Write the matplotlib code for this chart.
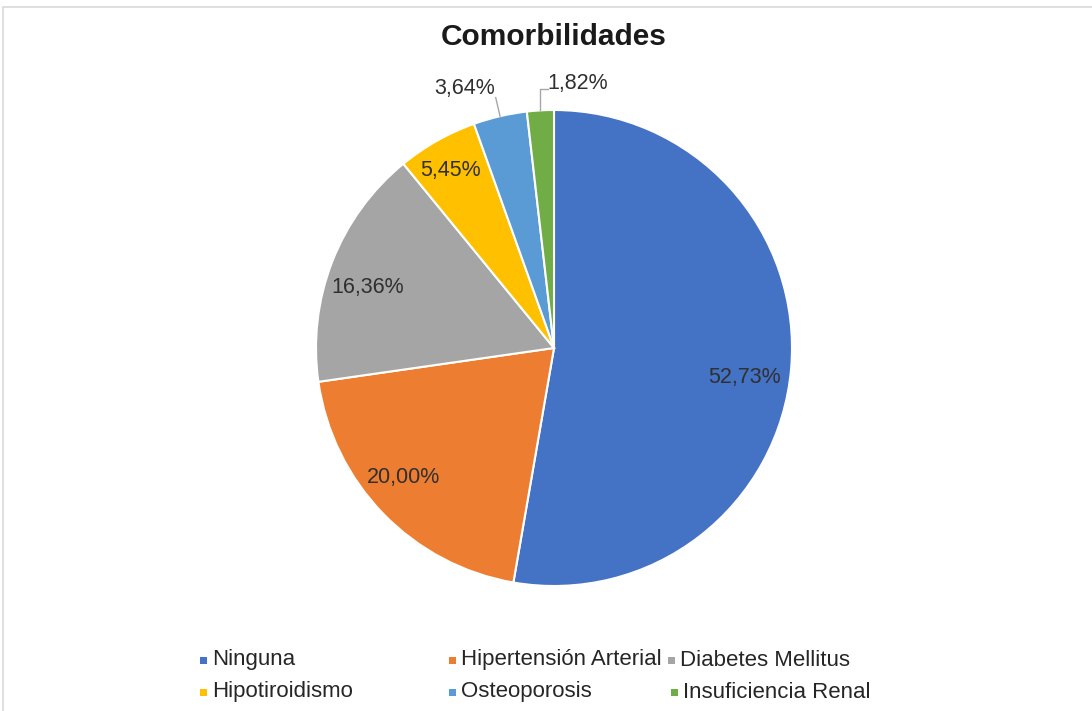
import numpy as np
import matplotlib.pyplot as plt
from matplotlib.patches import Rectangle

plt.rcParams['font.family'] = ['Liberation Sans', 'DejaVu Sans']

categorias = ['Ninguna', 'Hipertensión Arterial', 'Diabetes Mellitus',
              'Hipotiroidismo', 'Osteoporosis', 'Insuficiencia Renal']
porcentajes = [52.73, 20.00, 16.36, 5.45, 3.64, 1.82]
colores = ['#4472C4', '#ED7D31', '#A5A5A5', '#FFC000', '#5B9BD5', '#70AD47']

W, H = 1092, 711
fig = plt.figure(figsize=(W / 100, H / 100), dpi=100)
fig.patch.set_facecolor('white')

# marco del area del grafico
fig.patches.append(Rectangle((3 / W, -0.01), 1.02, (H - 7) / H + 0.01,
                             transform=fig.transFigure, fill=False,
                             edgecolor='#d9d9d9', lw=1.2))

cx, cy, r = 554, 348, 238
ax = fig.add_axes([(cx - r) / W, (H - cy - r) / H, 2 * r / W, 2 * r / H])
wedges, _ = ax.pie(porcentajes, colors=colores, startangle=90, counterclock=False,
                   wedgeprops=dict(edgecolor='white', linewidth=1.5))
ax.set_xlim(-1, 1)
ax.set_ylim(-1, 1)
ax.set_aspect('equal')
ax.axis('off')

# posicion de cada etiqueta: (radio, desplazamiento angular en grados)
pos_etiquetas = [(0.81, -3.8), (0.834, -3.5), (0.825, 3.3), (0.864, 0.6),
                 (1.152, 6.0), (1.114, -8.5)]

for w, p, (rr, dth) in zip(wedges, porcentajes, pos_etiquetas):
    mid = (w.theta1 + w.theta2) / 2
    a = np.radians(mid + dth)
    txt = f'{p:.2f}%'.replace('.', ',')
    ax.text(rr * np.cos(a), rr * np.sin(a), txt, ha='center', va='center',
            fontsize=15.5, color='#303030', clip_on=False)

# lineas guia de las etiquetas exteriores
gris = '#a6a6a6'
w = wedges[4]
m = np.radians((w.theta1 + w.theta2) / 2)
ax.plot([np.cos(m), 1.08 * np.cos(m)], [np.sin(m), 1.08 * np.sin(m)],
        color=gris, lw=1, clip_on=False)
w = wedges[5]
m = np.radians((w.theta1 + w.theta2) / 2)
x0, y0 = np.cos(m), np.sin(m)
ax.plot([x0, x0, x0 + 0.03], [y0, 1.09, 1.09], color=gris, lw=1, clip_on=False)

fig.text(cx / W, 1 - 37 / H, 'Comorbilidades', ha='center', va='center',
         fontsize=21.5, fontweight='bold', color='#1a1a1a')

# leyenda en dos filas
leyenda_pos = [(203, 660), (452, 660), (671, 660), (203, 692), (452, 692), (674, 692)]
for (lx, ly), nombre, col in zip(leyenda_pos, categorias, colores):
    fig.patches.append(Rectangle(((lx - 3.5) / W, 1 - (ly + 3.5) / H), 7 / W, 7 / H,
                                 transform=fig.transFigure, facecolor=col,
                                 edgecolor='none'))
    fig.text((lx + 9) / W, 1 - ly / H, nombre, ha='left', va='center',
             fontsize=16, color='#262626')

fig.savefig('out.png', dpi=100, facecolor='white')
